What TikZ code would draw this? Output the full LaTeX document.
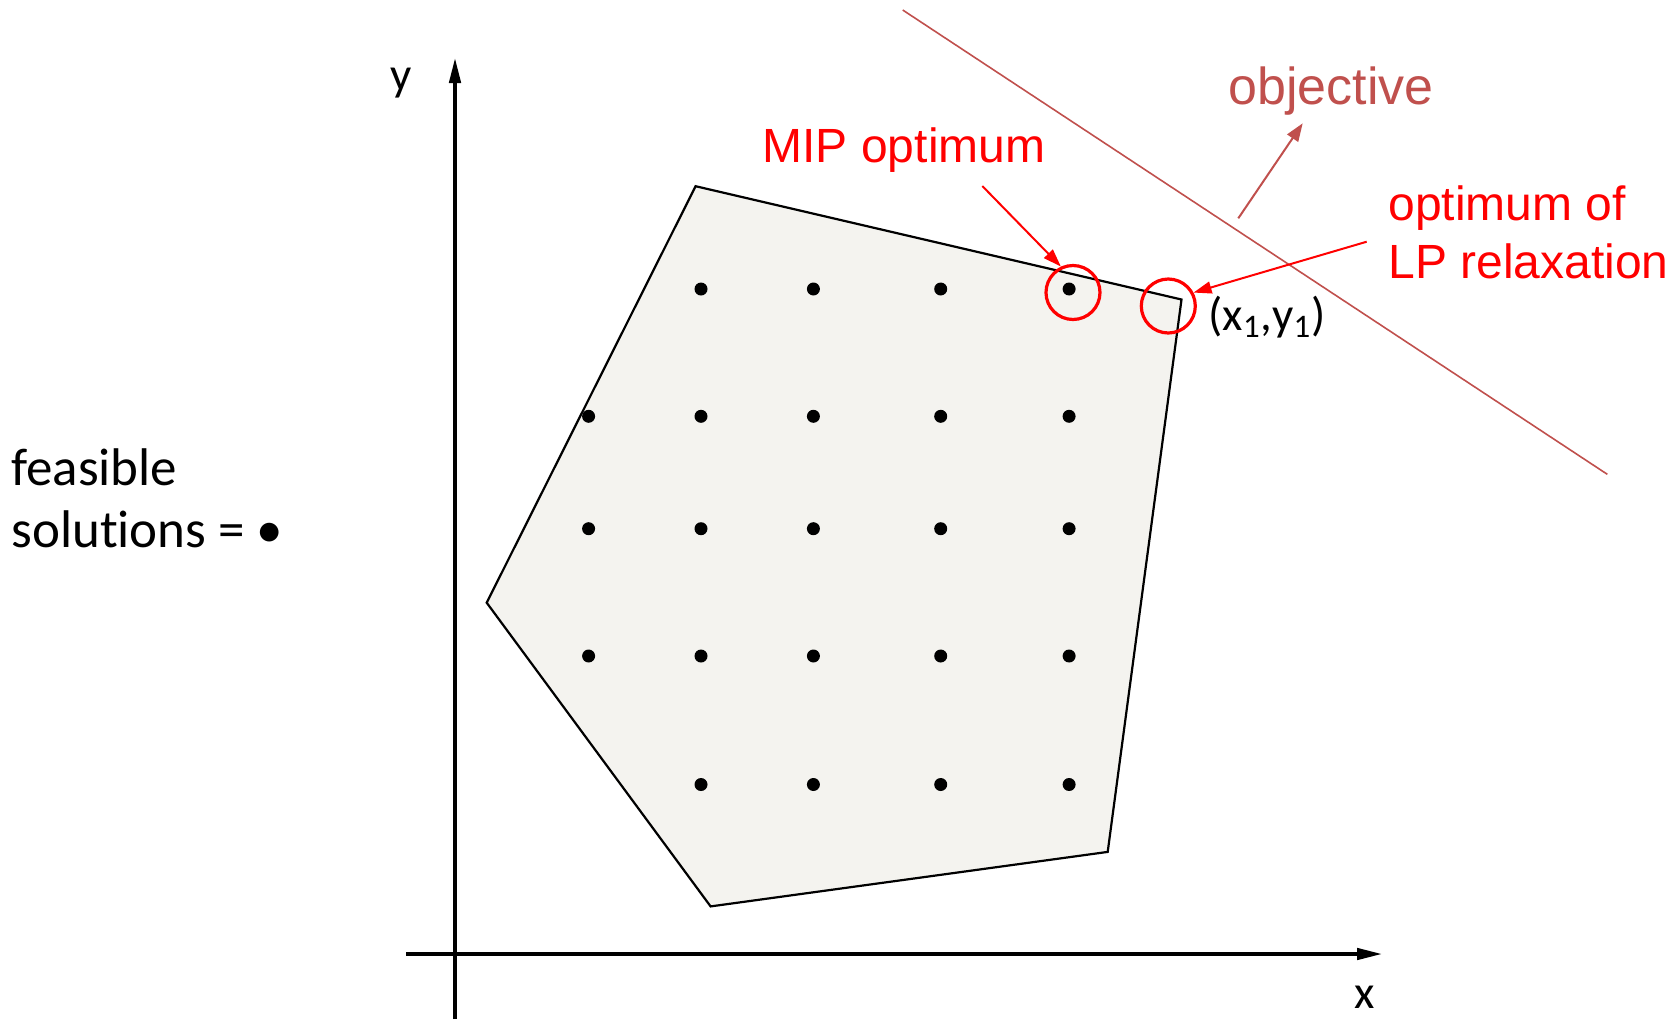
\documentclass[tikz,border=0pt]{standalone}
\usepackage{fontspec}
\setmainfont{Carlito}[Ligatures=NoCommon]
\newfontfamily\arialfont{Liberation Sans}
\usetikzlibrary{arrows.meta,positioning}
\definecolor{objred}{HTML}{C0504D}
\definecolor{feasfill}{HTML}{F4F3EF}
\tikzset{
    dot/.style={circle,fill=black,minimum size=6.5pt,inner sep=0pt},
    ring/.style={circle,draw=red,line width=1.6pt,minimum size=27pt,inner sep=0pt},
    axis/.style={-{Triangle[length=13pt,width=5.5pt]},line width=2.2pt},
    redarrow/.style={-{Triangle[length=9pt,width=6pt]},red,line width=1pt},
    redlabel/.style={text=red,font=\arialfont\fontsize{24}{29}\selectfont,align=left,inner sep=0pt}
}

\begin{document}
\begin{tikzpicture}[x=0.5pt,y=-0.5pt]
    \useasboundingbox (0,0) rectangle (1678,1019);
    \filldraw[fill=feasfill,line width=1.1pt] (695.6,186.2) -- (1181.5,299.5) -- (1107.7,851.9) -- (710.6,906.4) -- (486.7,602.7) -- cycle;
    \coordinate (xs) at (406,954);
    \coordinate (xe) at (1383,954);
    \coordinate (ys) at (455,1019);
    \coordinate (ye) at (455,57);
    \draw[axis] (xs) -- (xe);
    \draw[axis] (ys) -- (ye);
    \node[anchor=base,inner sep=0pt,font=\fontsize{23.5}{28}\selectfont] (ylab) at (401,90) {y};
    \node[anchor=base,inner sep=0pt,font=\fontsize{23.5}{28}\selectfont] (xlab) at (1365,1008) {x};
    \foreach \y/\r in {416.3/2,528.7/3,656/4}
        \foreach \x/\c in {588.6/1,701/2,813.4/3,940.7/4,1069.1/5}
            \node[dot] (d\r\c) at (\x,\y) {};
    \foreach \y/\r in {289/1,784.5/5}
        \foreach \x/\c in {701/2,813.4/3,940.7/4,1069.1/5}
            \node[dot] (d\r\c) at (\x,\y) {};
    \node[ring] (mip) at (1073,292.5) {};
    \node[ring] (lp) at (1168.3,306) {};
    \node[anchor=base west,inner sep=0pt,font=\fontsize{23.5}{28}\selectfont] (lpxy) at (1208,330) {(x\textsubscript{1},y\textsubscript{1})};
    \node[anchor=base west,align=left,inner sep=0pt,font=\fontsize{26.5}{31.25}\selectfont] (feas) at (11,547.5) {feasible\\solutions = \textbullet};
    \node[redlabel,anchor=base] (miplab) at (904,162) {MIP optimum};
    \node[redlabel,anchor=base west] (lplab) at (1388,278.3) {optimum of\\LP relaxation};
    \node[anchor=base west,inner sep=0pt,text=objred,font=\arialfont\fontsize{26}{31}\selectfont] (objlab) at (1228,104) {objective};
    \coordinate (oa) at (902.7,10);
    \coordinate (ob) at (1607.3,474.3);
    \draw[objred,line width=0.8pt] (oa) -- (ob);
    \coordinate (ofrom) at (1238.3,218.3);
    \coordinate (oto) at (1302.7,123.3);
    \draw[-{Triangle[length=9pt,width=6.5pt]},objred,line width=1pt] (ofrom) -- (oto);
    \coordinate (mipfrom) at (982.3,186);
    \draw[redarrow] (mipfrom) -- (mip.115);
    \coordinate (lpfrom) at (1366.7,241.7);
    \draw[redarrow] (lpfrom) -- (lp.28);
\end{tikzpicture}
\end{document}
